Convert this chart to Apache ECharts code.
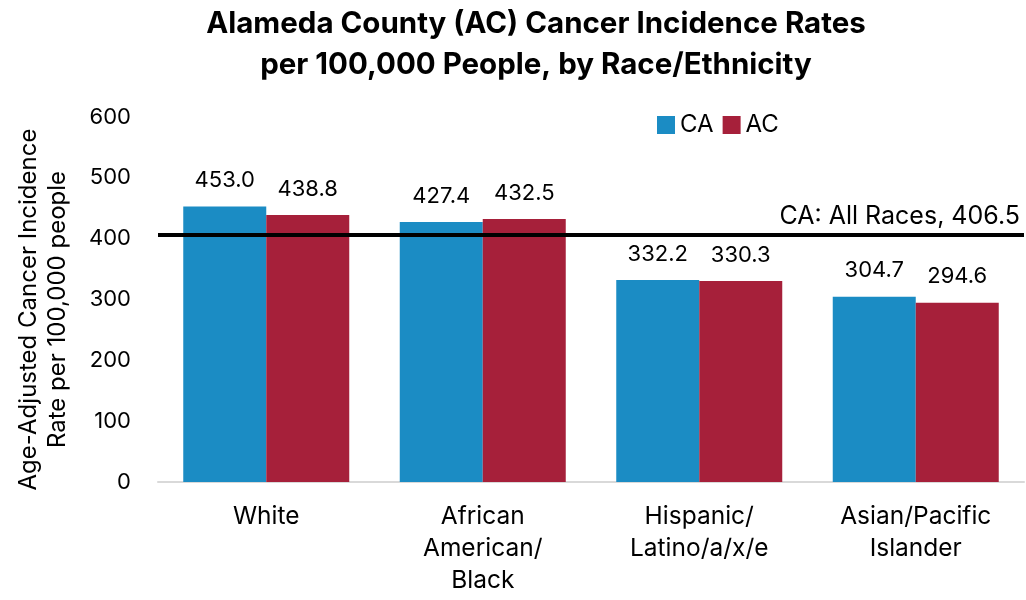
<!DOCTYPE html>
<html>
<head>
<meta charset="utf-8">
<script src="https://cdn.jsdelivr.net/npm/echarts@6/dist/echarts.min.js"></script>
<style>
  html, body { margin: 0; padding: 0; background: #fff; }
  #chart { width: 1026px; height: 600px; }
</style>
</head>
<body>
<div id="chart"></div>
<script>
// Race/ethnicity groups shown along the x axis
const categories = ['White', 'African\nAmerican/\nBlack', 'Hispanic/\nLatino/a/x/e', 'Asian/Pacific\nIslander'];
// Age-adjusted incidence per 100,000: California vs Alameda County
const caValues = [453.0, 427.4, 332.2, 304.7];
const acValues = [438.8, 432.5, 330.3, 294.6];
// Statewide all-races reference rate
const caAllRaces = 406.5;
const seriesNames = ['CA', 'AC'];

const FONT = 'Inter, Liberation Sans, Arial, sans-serif';
const chart = echarts.init(document.getElementById('chart'), null, { renderer: 'canvas' });

const barLabel = {
  show: true,
  position: 'top',
  distance: 15,
  color: '#000',
  fontFamily: FONT,
  fontSize: 22,
  formatter: p => p.value.toFixed(1)
};

chart.setOption({
  backgroundColor: '#fff',
  animation: false,
  title: {
    text: 'Alameda County (AC) Cancer Incidence Rates\nper 100,000 People, by Race/Ethnicity',
    left: 531,
    textAlign: 'center',
    top: -1,
    textStyle: {
      fontFamily: FONT,
      fontWeight: 'bold',
      fontSize: 29.5,
      lineHeight: 41,
      color: '#000'
    }
  },
  legend: {
    data: seriesNames,
    left: 652,
    top: 108,
    itemWidth: 18,
    itemHeight: 18,
    itemGap: 9,
    icon: 'rect',
    textStyle: { fontFamily: FONT, fontSize: 24, color: '#000', padding: [0, 0, 0, 0] }
  },
  grid: { left: 158, right: 2, top: 117, bottom: 118, containLabel: false },
  xAxis: {
    type: 'category',
    data: categories,
    axisLine: { show: true, lineStyle: { color: '#D9D9D9', width: 2 } },
    axisTick: { show: false },
    axisLabel: {
      interval: 0,
      margin: 19,
      color: '#000',
      fontFamily: FONT,
      fontSize: 24.5,
      lineHeight: 32
    }
  },
  yAxis: {
    type: 'value',
    min: 0,
    max: 600,
    interval: 100,
    axisLine: { show: false },
    axisTick: { show: false },
    splitLine: { show: false },
    axisLabel: { margin: 27, color: '#000', fontFamily: FONT, fontSize: 22 },
    name: 'Age-Adjusted Cancer Incidence\nRate per 100,000 people',
    nameLocation: 'middle',
    nameRotate: 90,
    nameGap: 86,
    nameTextStyle: { fontFamily: FONT, fontSize: 24, lineHeight: 29, color: '#000', padding: [0, 20, 0, 0] }
  },
  series: [
    {
      name: seriesNames[0],
      type: 'bar',
      data: caValues,
      barWidth: 83,
      barGap: '0%',
      itemStyle: { color: '#1B8CC4' },
      label: barLabel,
      z: 2
    },
    {
      name: seriesNames[1],
      type: 'bar',
      data: acValues,
      barWidth: 83,
      barGap: '0%',
      itemStyle: { color: '#A6203A' },
      label: barLabel,
      z: 2,
      markLine: {
        silent: true,
        symbol: ['none', 'none'],
        z: 5,
        lineStyle: { color: '#000', width: 4, type: 'solid' },
        label: {
          show: true,
          position: 'insideEndTop',
          distance: [4, 6],
          color: '#000',
          fontFamily: FONT,
          fontSize: 25,
          formatter: () => 'CA: All Races, ' + caAllRaces.toFixed(1)
        },
        data: [{ yAxis: caAllRaces }]
      }
    }
  ]
});
</script>
</body>
</html>
